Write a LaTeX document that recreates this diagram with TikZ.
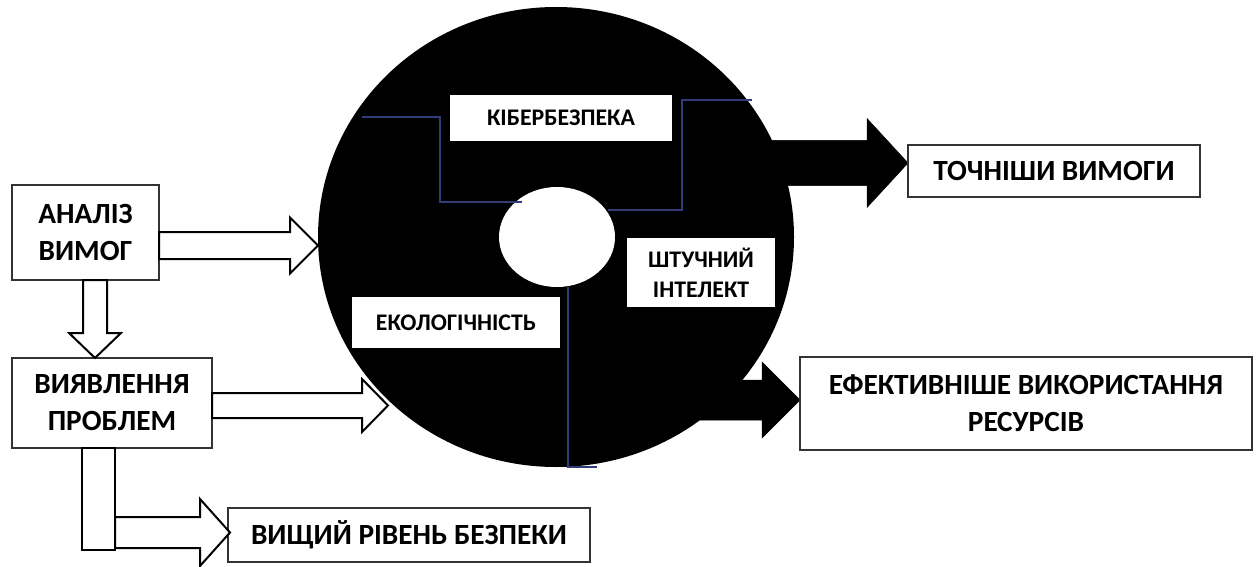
\documentclass[tikz,border=0pt]{standalone}
\usepackage{fontspec}
\setmainfont{Carlito}
\newcommand\blockR[7]{\draw[#1] (#2,#4-#5) -- (#3-#7,#4-#5) -- (#3-#7,#4-#6) -- (#3,#4) -- (#3-#7,#4+#6) -- (#3-#7,#4+#5) -- (#2,#4+#5) -- cycle;}
\newcommand\blockD[7]{\draw[#1] (#4-#5,#2) -- (#4-#5,#3-#7) -- (#4-#6,#3-#7) -- (#4,#3) -- (#4+#6,#3-#7) -- (#4+#5,#3-#7) -- (#4+#5,#2) -- cycle;}
\tikzset{
  outbox/.style={draw=black!80, line width=1.4pt, fill=white, align=center, inner sep=0pt,
    font=\bfseries\fontsize{29.3}{37}\selectfont},
  inbox/.style={fill=white, align=center, inner sep=0pt,
    font=\bfseries\fontsize{23.8}{30}\selectfont},
  hollow/.style={draw=black, line width=2pt, fill=white, line join=miter},
  solid/.style={fill=black, draw=black, line width=0.5pt},
  sepline/.style={draw={rgb,255:red,50;green,60;blue,120}, line width=1.3pt}
}
\begin{document}
\begin{tikzpicture}[x=1pt,y=-1pt]
\useasboundingbox (0,0) rectangle (1258,567);
% disc
\fill[black] (556,237) ellipse [x radius=238, y radius=230];
% black arrows
\blockR{solid}{720}{908}{163}{22.5}{44.5}{41}
\blockR{solid}{700}{800}{400}{20}{38}{38}
% inner hole
\fill[white] (557,237) ellipse [x radius=58, y radius=50];
% separators
\draw[sepline] (362,117) -- (440,117) -- (440,202) -- (522,202);
\draw[sepline] (608,210) -- (682,210) -- (682,100) -- (752,100);
\draw[sepline] (568,287) -- (568,467) -- (597,467);
% inner labels
\node[inbox, minimum width=222, minimum height=46] (kib) at (561,118) {КІБЕРБЕЗПЕКА};
\node[inbox, minimum width=148, minimum height=69] (ai) at (701,272.5) {ШТУЧНИЙ\\ІНТЕЛЕКТ};
\node[inbox, minimum width=208, minimum height=51] (eco) at (456,322.5) {ЕКОЛОГІЧНІСТЬ};
% outer boxes
\node[outbox, minimum width=147, minimum height=95] (an) at (85.5,232.5) {АНАЛІЗ\\ВИМОГ};
\node[outbox, minimum width=200, minimum height=90] (vy) at (112,403) {ВИЯВЛЕННЯ\\ПРОБЛЕМ};
\node[outbox, minimum width=362, minimum height=54] (bez) at (409,535) {ВИЩИЙ РІВЕНЬ БЕЗПЕКИ};
\node[outbox, minimum width=292, minimum height=52] (toch) at (1054,171) {ТОЧНІШИ ВИМОГИ};
\node[outbox, minimum width=452, minimum height=93] (ef) at (1026,403.5) {ЕФЕКТИВНІШЕ ВИКОРИСТАННЯ\\РЕСУРСІВ};
% hollow arrows
\blockR{hollow}{159}{318}{245.5}{13.5}{28}{28}
\blockD{hollow}{280}{358}{95}{12}{26}{25}
\blockR{hollow}{212}{388}{405.5}{12.5}{26.5}{26}
\draw[hollow] (82,448) rectangle (115,550);
\blockR{hollow}{115}{230}{532.5}{15.5}{33.5}{30}
\end{tikzpicture}
\end{document}
